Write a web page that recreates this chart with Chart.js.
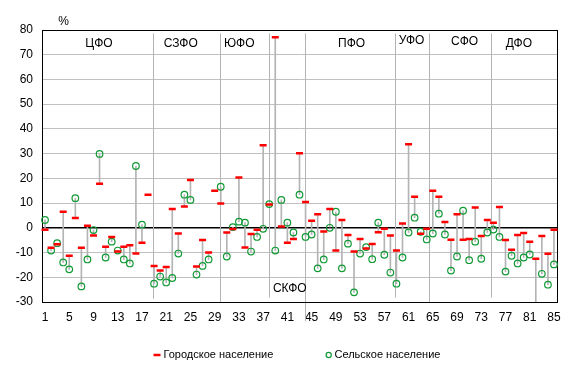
<!DOCTYPE html>
<html><head><meta charset="utf-8">
<script src="https://cdn.jsdelivr.net/npm/chart.js@4/dist/chart.umd.min.js"></script>
<style>html,body{margin:0;padding:0;background:#fff}canvas{display:block}</style>
</head><body>
<canvas id="c" width="575" height="373"></canvas>
<script>
const categories = ['1','2','3','4','5','6','7','8','9','10','11','12','13','14','15','16','17','18','19','20',
'21','22','23','24','25','26','27','28','29','30','31','32','33','34','35','36','37','38','39','40',
'41','42','43','44','45','46','47','48','49','50','51','52','53','54','55','56','57','58','59','60',
'61','62','63','64','65','66','67','68','69','70','71','72','73','74','75','76','77','78','79','80',
'81','82','83','84','85'];

const urban = [-0.8,-8.1,-6.6,6.5,-11.3,4.0,-8.1,0.8,-3.1,17.8,
-7.7,-3.7,-9.6,-7.7,-7.0,-10.4,-6.0,13.4,-15.4,-17.3,
-15.8,7.6,-2.3,8.6,19.3,-15.6,-4.9,-10.0,15.0,9.8,
-1.9,-0.5,20.3,-8.0,-2.5,-0.8,33.4,9.4,77.1,0.5,
-6.0,-4.5,30.2,10.4,2.9,5.5,-1.5,7.6,-9.2,3.2,
-2.9,-9.6,-4.5,-8.4,-6.5,-1.8,-0.4,-3.1,-9.2,1.7,
33.8,12.6,-2.4,-0.4,15.0,12.6,2.4,-4.8,5.5,-4.8,
-4.5,8.2,-3.3,3.2,2.1,8.4,-4.9,-8.9,-2.9,-2.1,
-5.6,-12.5,-3.3,-10.5,-0.8];

const rural = [3.2,-9.2,-6.2,-14.0,-16.8,12.0,-23.7,-12.8,-0.9,29.9,
-12.0,-5.6,-9.2,-12.8,-14.4,25.0,1.3,null,-22.6,-19.7,
-22.1,-20.3,-10.4,13.4,11.3,-18.9,-15.4,-12.8,null,16.6,
-11.6,0.3,2.5,2.1,-9.6,-3.7,-0.4,9.6,-9.2,11.3,
2.1,-1.9,13.4,-3.7,-2.7,-16.4,-12.8,0.0,6.5,-16.4,
-6.4,-26.1,-10.4,-7.8,-12.7,2.1,-10.9,-18.1,-22.6,-12.0,
-1.9,4.1,-1.6,-4.7,-2.3,5.7,-2.7,-17.3,-11.6,6.9,
-13.1,-5.6,-12.5,-1.9,-0.7,-3.7,-17.7,-11.3,-14.4,-12.0,
-10.8,-34.0,-18.6,-23.0,-14.8];

const seriesNames = ['Городское население','Сельское население'];
const yTickValues = [-30,-20,-10,0,10,20,30,40,50,60,70,80];
const districts = ['ЦФО','СЗФО','ЮФО','СКФО','ПФО','УФО','СФО','ДФО'];
// district label anchor: [category position, value]
const districtLabelAt = [[9.9,74.4],[23.4,74.4],[33.06,74.4],[41.4,-24.8],[51.6,74.4],[61.5,75.5],[70.25,75.1],[79.2,74.3]];
// separator lines between districts: category position, top value, bottom value
const districtBounds = [18.83,29.89,37.98,43.9,58.7,64.3,74.6];
const boundTop = 78.6;
const boundBottom = [-28.7,-30,-28.2,-37.8,-28.2,-30,-28.2];

const FONT = '"Liberation Sans", Arial, sans-serif';
const RED = '#ff0000', GREEN = '#129a36', GRID = '#c0c0c0', DROP = '#b4b4b4';

const decor = {
  id: 'decor',
  beforeDatasetsDraw(chart) {
    const {ctx, chartArea: a, scales: {x, y}} = chart;
    ctx.save();
    ctx.strokeStyle = '#b4b4b4';
    ctx.lineWidth = 1;
    districtBounds.forEach((c, i) => {
      const px = Math.round(x.getPixelForValue(c - 1)) + 0.5;
      ctx.beginPath();
      ctx.moveTo(px, y.getPixelForValue(boundTop));
      ctx.lineTo(px, y.getPixelForValue(boundBottom[i]));
      ctx.stroke();
    });
    ctx.strokeStyle = '#000';
    ctx.lineWidth = 1;
    ctx.strokeRect(Math.round(a.left) + 0.5, Math.round(a.top) + 0.5, Math.round(a.right - a.left), Math.round(a.bottom - a.top));
    ctx.restore();
  },
  afterDraw(chart) {
    const {ctx, chartArea: a, scales: {x, y}} = chart;
    ctx.save();
    ctx.fillStyle = '#000';
    ctx.font = '12px ' + FONT;
    ctx.textAlign = 'center';
    ctx.textBaseline = 'middle';
    districts.forEach((d, i) => {
      const [c, v] = districtLabelAt[i];
      ctx.fillText(d, x.getPixelForValue(c - 1), y.getPixelForValue(v));
    });
    ctx.fillText('%', 63.5, 22);
    // legend
    ctx.font = '11px ' + FONT;
    ctx.textAlign = 'left';
    const ly = 355;
    ctx.strokeStyle = RED; ctx.lineWidth = 2.5;
    ctx.beginPath(); ctx.moveTo(153.5, ly); ctx.lineTo(160.5, ly); ctx.stroke();
    ctx.fillText(seriesNames[0], 163.5, ly);
    ctx.strokeStyle = GREEN; ctx.lineWidth = 1.2;
    ctx.beginPath(); ctx.arc(328.7, ly, 2.6, 0, Math.PI * 2); ctx.stroke();
    ctx.fillText(seriesNames[1], 334.5, ly);
    ctx.restore();
  }
};

Chart.defaults.font.family = FONT;
Chart.defaults.font.size = 12;
Chart.defaults.color = '#000';

new Chart(document.getElementById('c'), {
  data: {
    labels: categories,
    datasets: [
      {
        type: 'bar', label: 'range',
        data: urban.map((u, i) => rural[i] === null ? null : [u, rural[i]]),
        backgroundColor: DROP, barThickness: 1, order: 3
      },
      {
        type: 'line', label: seriesNames[0], data: urban, showLine: false,
        pointStyle: 'line', pointRadius: 3.5, pointBorderWidth: 2.5,
        pointBorderColor: RED, borderColor: RED, order: 1
      },
      {
        type: 'line', label: seriesNames[1], data: rural, showLine: false,
        pointStyle: 'circle', pointRadius: 3.3, pointBorderWidth: 1.2,
        pointBorderColor: GREEN, pointBackgroundColor: 'rgba(255,255,255,0)', borderColor: GREEN, order: 2
      }
    ]
  },
  options: {
    responsive: false, devicePixelRatio: 1, animation: false, events: [],
    layout: { padding: { top: 30, right: 18, bottom: 41, left: 0 } },
    plugins: { legend: { display: false }, tooltip: { enabled: false } },
    scales: {
      x: {
        type: 'category', offset: true,
        grid: { display: false, drawTicks: false }, border: { display: false },
        ticks: { autoSkip: false, maxRotation: 0, minRotation: 0, padding: 8,
          callback: (v, i) => (i % 4 === 0 ? categories[i] : '') },
        afterFit: (s) => { s.height = 30; }
      },
      y: {
        min: -30, max: 80,
        afterBuildTicks: (s) => { s.ticks = yTickValues.map(v => ({ value: v })); },
        grid: {
          drawTicks: false,
          color: (c) => (c.tick && c.tick.value === 0 ? '#000' : GRID),
          lineWidth: (c) => (c.tick && c.tick.value === 0 ? 1.5 : 1)
        },
        border: { display: false },
        ticks: { padding: 9 },
        afterFit: (s) => { s.width = 42; }
      }
    }
  },
  plugins: [decor]
});
</script>
</body></html>
